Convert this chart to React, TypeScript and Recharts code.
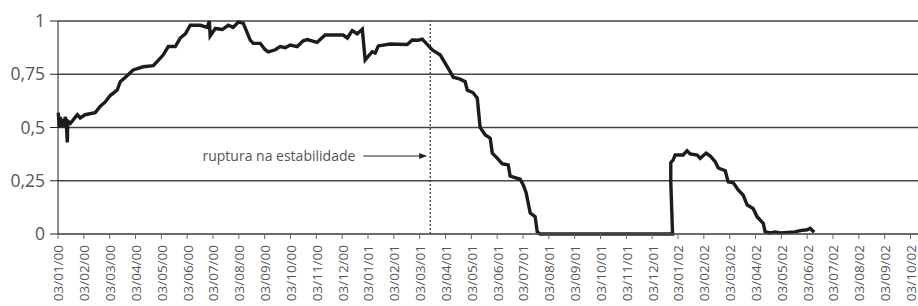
import { LineChart, Line, XAxis, YAxis, CartesianGrid, ReferenceLine } from "recharts"

// x = months since 03/01/00, y = index value
const months = [
  0.01, 0.05, 0.09, 0.13, 0.17, 0.24, 0.28, 0.32, 0.36, 0.38, 0.48, 0.75, 0.86, 1.05, 1.44, 1.64,
  1.83, 2.02, 2.29, 2.41, 2.6, 2.91, 3.3, 3.69, 4.07, 4.27, 4.54, 4.73, 4.93, 5.12, 5.51, 5.78,
  5.86, 5.89, 6.09, 6.36, 6.59, 6.78, 6.98, 7.17, 7.44, 7.56, 7.83, 8.02, 8.14, 8.41, 8.6, 8.8,
  8.99, 9.26, 9.49, 9.65, 10.03, 10.34, 11.04, 11.2, 11.39, 11.58, 11.78, 11.89, 12.16, 12.28,
  12.4, 12.86, 13.52, 13.71, 13.94, 14.1, 14.29, 14.49, 14.8, 15.18, 15.3, 15.57, 15.76, 15.84,
  16.07, 16.23, 16.34, 16.54, 16.73, 16.81, 17.0, 17.19, 17.43, 17.5, 17.89, 18.01, 18.12, 18.28,
  18.47, 18.55, 18.66, 23.79, 23.72, 23.72, 23.81, 23.89, 24.2, 24.35, 24.47, 24.74, 24.86, 25.09,
  25.25, 25.44, 25.56, 25.83, 25.94, 26.14, 26.33, 26.52, 26.68, 26.91, 27.06, 27.3, 27.37, 27.56,
  27.76, 27.95, 28.53, 28.73, 29.0, 29.12, 29.27,
]

const values = [
  0.57, 0.5, 0.55, 0.5, 0.54, 0.5, 0.55, 0.52, 0.43, 0.53, 0.52, 0.56, 0.545, 0.56, 0.57, 0.6,
  0.62, 0.65, 0.675, 0.715, 0.735, 0.77, 0.785, 0.79, 0.84, 0.88, 0.88, 0.92, 0.94, 0.98, 0.98, 0.97,
  1.0, 0.93, 0.965, 0.96, 0.98, 0.97, 0.995, 0.99, 0.91, 0.895, 0.895, 0.865, 0.855, 0.865, 0.88, 0.875,
  0.887, 0.88, 0.907, 0.913, 0.9, 0.934, 0.934, 0.92, 0.955, 0.94, 0.961, 0.817, 0.856, 0.85,
  0.883, 0.892, 0.89, 0.911, 0.91, 0.915, 0.89, 0.864, 0.84, 0.762, 0.736, 0.727, 0.715, 0.676,
  0.663, 0.638, 0.5, 0.465, 0.45, 0.38, 0.356, 0.33, 0.324, 0.272, 0.257, 0.23, 0.194, 0.098,
  0.081, 0.01, 0, 0, 0.245, 0.335, 0.347, 0.371, 0.371, 0.391, 0.376, 0.371, 0.355, 0.38,
  0.366, 0.34, 0.31, 0.297, 0.245, 0.24, 0.207, 0.183, 0.136, 0.12, 0.081, 0.05, 0.011, 0.005,
  0.01, 0.005, 0.01, 0.016, 0.02, 0.027, 0.008,
]

const tickLabels = [
  "03/01/00", "03/02/00", "03/03/00", "03/04/00", "03/05/00", "03/06/00", "03/07/00", "03/08/00",
  "03/09/00", "03/10/00", "03/11/00", "03/12/00", "03/01/01", "03/02/01", "03/03/01", "03/04/01",
  "03/05/01", "03/06/01", "03/07/01", "03/08/01", "03/09/01", "03/10/01", "03/11/01", "03/12/01",
  "03/01/02", "03/02/02", "03/03/02", "03/04/02", "03/05/02", "03/06/02", "03/07/02", "03/08/02",
  "03/09/02", "03/10/02",
]

const yTicks = [0, 0.25, 0.5, 0.75, 1]

const breakMonth = 14.41
const arrowFrom = 11.82
const arrowTo = 14.29
const arrowLevel = 0.366
const annotation = "ruptura na estabilidade"

const data = months.map((m, i) => ({ m, v: values[i] }))
const xTicks = tickLabels.map((_, i) => i)

const FONT = "'Open Sans', 'Liberation Sans', sans-serif"

const DateTick = (props: any) => {
  const { x, y, payload } = props
  return (
    <text
      x={x}
      y={y}
      transform={`rotate(-90, ${x}, ${y})`}
      textAnchor="end"
      dy="0.4em"
      fontSize={13.5}
      fill="#555"
      fontFamily={FONT}
    >
      {tickLabels[payload.value]}
    </text>
  )
}

const ArrowShape = (props: any) => {
  const { x1, y1, x2, y2 } = props
  return (
    <g>
      <line x1={x1} y1={y1} x2={x2 - 6} y2={y2} stroke="#222" strokeWidth={1} />
      <polygon points={`${x2},${y2} ${x2 - 8},${y2 - 3} ${x2 - 8},${y2 + 3}`} fill="#222" />
      <text x={x1 - 8} y={y1} dy="0.35em" textAnchor="end" fontSize={14} fill="#555" fontFamily={FONT}>
        {annotation}
      </text>
    </g>
  )
}

export default function App() {
  return (
    <div style={{ position: "absolute", left: 0, top: 0, background: "#fff" }}>
      <LineChart width={918} height={306} data={data} margin={{ top: 21, right: 0, left: 0, bottom: 0 }}>
        <CartesianGrid vertical={false} stroke="#444" strokeWidth={1.4} />
        <XAxis
          dataKey="m"
          type="number"
          domain={[0, 33.29]}
          ticks={xTicks}
          interval={0}
          height={72}
          tickSize={5}
          tickMargin={6}
          stroke="#666"
          tick={<DateTick />}
        />
        <YAxis
          type="number"
          domain={[0, 1]}
          ticks={yTicks}
          width={58}
          tickSize={8}
          tickMargin={5}
          stroke="#222"
          tickFormatter={(v: number) => String(v).replace(".", ",")}
          tick={{ fontSize: 17.5, fill: "#555", fontFamily: FONT }}
        />
        <ReferenceLine x={breakMonth} stroke="#333" strokeDasharray="2 2" strokeWidth={1.2} />
        <ReferenceLine
          segment={[
            { x: arrowFrom, y: arrowLevel },
            { x: arrowTo, y: arrowLevel },
          ]}
          shape={<ArrowShape />}
        />
        <Line
          type="linear"
          dataKey="v"
          stroke="#1c1c1c"
          strokeWidth={3.4}
          dot={false}
          isAnimationActive={false}
          strokeLinejoin="miter"
        />
      </LineChart>
    </div>
  )
}
